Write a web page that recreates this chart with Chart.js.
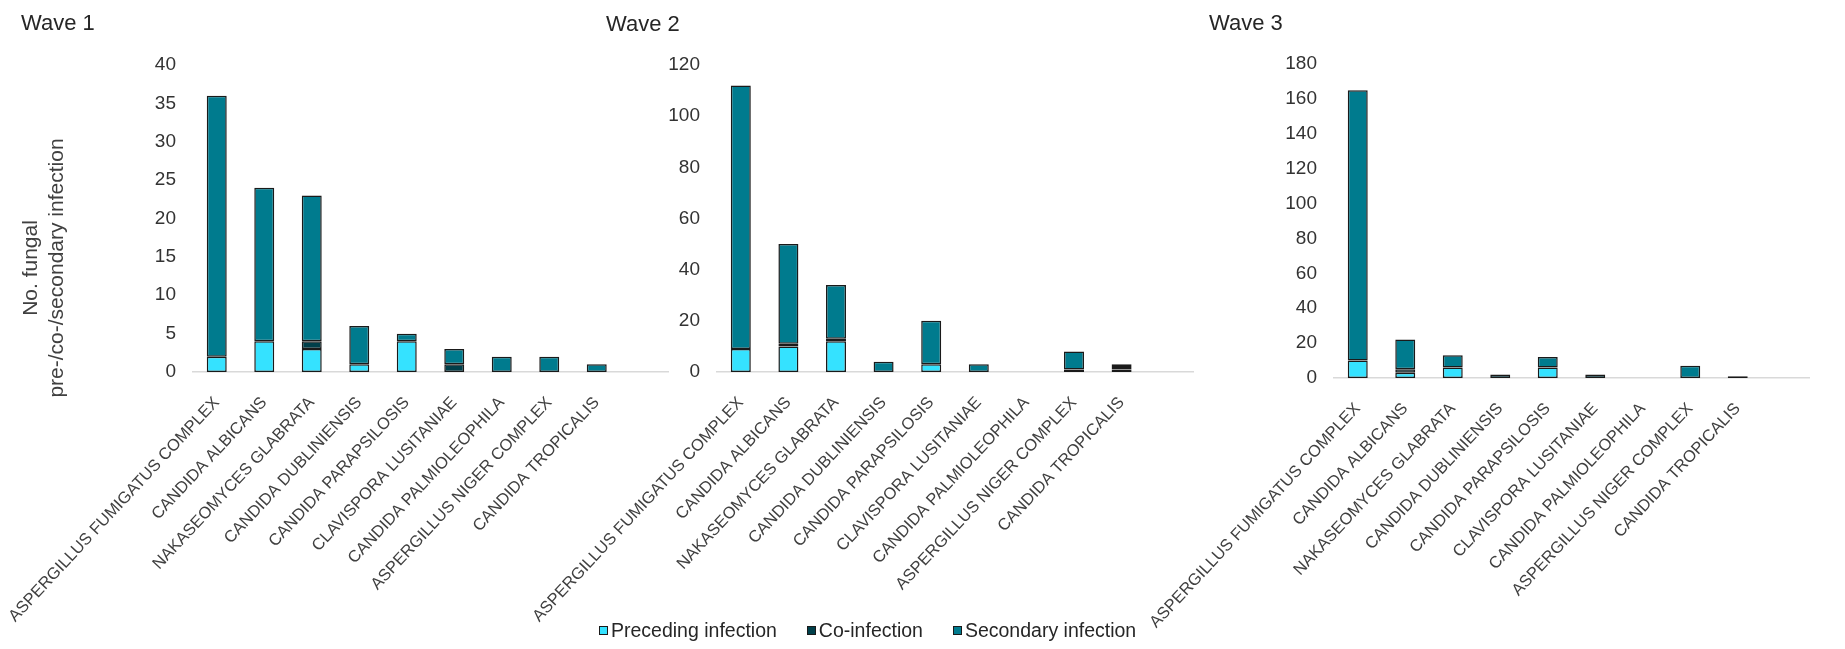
<!DOCTYPE html>
<html>
<head>
<meta charset="utf-8">
<script src="https://cdn.jsdelivr.net/npm/chart.js@4.4.1/dist/chart.umd.min.js"></script>
<style>
  html, body { margin: 0; padding: 0; background: #fff; }
  #wrap { position: relative; width: 1845px; height: 649px; overflow: hidden; }
  #wrap canvas { position: absolute; left: 0; top: 0; }
  #legend { position: absolute; left: 599px; top: 620px; display: flex; align-items: center;
            font: 19.5px "Liberation Sans", Arial, sans-serif; color: #262626; line-height: 20px; white-space: nowrap; }
  #legend .item { display: flex; align-items: center; margin-right: 30px; }
  #legend .box { width: 7px; height: 7px; border: 1px solid #1a1a1a; margin-right: 3px; }
</style>
</head>
<body>
<div id="wrap">
  <canvas id="wave1" width="1845" height="649"></canvas>
  <canvas id="wave2" width="1845" height="649"></canvas>
  <canvas id="wave3" width="1845" height="649"></canvas>
  <div id="legend"></div>
</div>
<script>
var species = ['ASPERGILLUS FUMIGATUS COMPLEX', 'CANDIDA ALBICANS', 'NAKASEOMYCES GLABRATA',
  'CANDIDA DUBLINIENSIS', 'CANDIDA PARAPSILOSIS', 'CLAVISPORA LUSITANIAE',
  'CANDIDA PALMIOLEOPHILA', 'ASPERGILLUS NIGER COMPLEX', 'CANDIDA TROPICALIS'];
var seriesNames = ['Preceding infection', 'Co-infection', 'Secondary infection'];

var wave1Preceding = [2, 4, 3, 1, 4, 0, 0, 0, 0];
var wave1Co        = [0, 0, 1, 0, 0, 1, 0, 0, 0];
var wave1Secondary = [34, 20, 19, 5, 1, 2, 2, 2, 1];

var wave2Preceding = [9, 10, 12, 0, 3, 0, 0, 0, 1];
var wave2Co        = [0, 1, 1, 0, 0, 0, 0, 1, 1];
var wave2Secondary = [103, 39, 21, 4, 17, 3, 0, 7, 1];

var wave3Preceding = [10, 3, 6, 0, 6, 0, 0, 0, 0];
var wave3Co        = [0, 2, 0, 2, 0, 2, 0, 0, 1];
var wave3Secondary = [155, 17, 7, 0, 6, 0, 0, 7, 0];

var yTitle = ['No. fungal', 'pre-/co-/secondary infection'];

var colors = ['#35e2ff', '#003f4a', '#007b8e'];
var fontFamily = '"Liberation Sans", Arial, Helvetica, sans-serif';

// titles + y axis title drawn on the canvas
var panelText = {
  id: 'panelText',
  afterDraw: function(chart, args, opts) {
    var ctx = chart.ctx;
    ctx.save();
    ctx.fillStyle = '#262626';
    ctx.font = '22px ' + fontFamily;
    ctx.textAlign = 'left';
    ctx.textBaseline = 'alphabetic';
    ctx.fillText(opts.title, opts.titleX, opts.titleY);
    if (opts.axisLines) {
      ctx.fillStyle = '#404040';
      ctx.font = '21px ' + fontFamily;
      ctx.translate(opts.axisX, opts.axisY);
      ctx.rotate(-Math.PI / 2);
      ctx.textAlign = 'center';
      ctx.textBaseline = 'middle';
      opts.axisLines.forEach(function(line, i) {
        ctx.fillText(line, 0, i * 25.5);
      });
    }
    ctx.restore();
  }
};

function noZero(arr) {
  return arr.map(function(v) { return v === 0 ? null : v; });
}

function makeChart(id, pre, co, sec, yMax, step, cfg) {
  var labels = species.concat(['']);
  return new Chart(document.getElementById(id), {
    type: 'bar',
    data: {
      labels: labels,
      datasets: [pre, co, sec].map(function(vals, i) {
        return {
          label: seriesNames[i],
          data: noZero(vals),
          backgroundColor: colors[i],
          borderColor: '#1a1a1a',
          borderWidth: 1.5,
          borderSkipped: false,
          barPercentage: 0.42,
          categoryPercentage: 1.0
        };
      })
    },
    options: {
      responsive: false,
      animation: false,
      layout: { padding: cfg.padding },
      plugins: {
        legend: { display: false },
        tooltip: { enabled: false },
        panelText: cfg.text
      },
      scales: {
        x: {
          stacked: true,
          grid: { display: false, drawTicks: false },
          border: { display: true, color: '#d9d9d9', width: 1.5 },
          ticks: {
            autoSkip: false,
            maxRotation: 47,
            minRotation: 47,
            padding: 21,
            color: '#404040',
            font: { family: fontFamily, size: 16.5 }
          },
          afterFit: function(scale) {
            scale.height = cfg.xHeight;
            // long rotated labels must not push the plot area
            scale.paddingLeft = 0;
            scale.paddingRight = 0;
          }
        },
        y: {
          stacked: true,
          min: 0,
          max: yMax,
          grid: { display: false, drawTicks: false },
          border: { display: false },
          ticks: {
            stepSize: step,
            padding: 17,
            color: '#333333',
            font: { family: fontFamily, size: 19 }
          },
          afterFit: function(scale) { scale.width = cfg.yWidth; }
        }
      }
    },
    plugins: [panelText]
  });
}

makeChart('wave1', wave1Preceding, wave1Co, wave1Secondary, 40, 5, {
  padding: { left: 93, right: 1177, top: 65, bottom: 0 },
  yWidth: 100, xHeight: 277,
  text: { title: 'Wave 1', titleX: 21, titleY: 30, axisLines: yTitle, axisX: 31.5, axisY: 268 }
});

makeChart('wave2', wave2Preceding, wave2Co, wave2Secondary, 120, 20, {
  padding: { left: 617, right: 652, top: 65, bottom: 0 },
  yWidth: 100, xHeight: 277,
  text: { title: 'Wave 2', titleX: 606, titleY: 31 }
});

makeChart('wave3', wave3Preceding, wave3Co, wave3Secondary, 180, 20, {
  padding: { left: 1234, right: 36, top: 64, bottom: 0 },
  yWidth: 100, xHeight: 271,
  text: { title: 'Wave 3', titleX: 1209, titleY: 30 }
});

// legend built from the series names and colours
var legendEl = document.getElementById('legend');
seriesNames.forEach(function(name, i) {
  var item = document.createElement('div');
  item.className = 'item';
  var box = document.createElement('span');
  box.className = 'box';
  box.style.background = colors[i];
  var txt = document.createElement('span');
  txt.textContent = name;
  item.appendChild(box);
  item.appendChild(txt);
  legendEl.appendChild(item);
});
</script>
</body>
</html>
